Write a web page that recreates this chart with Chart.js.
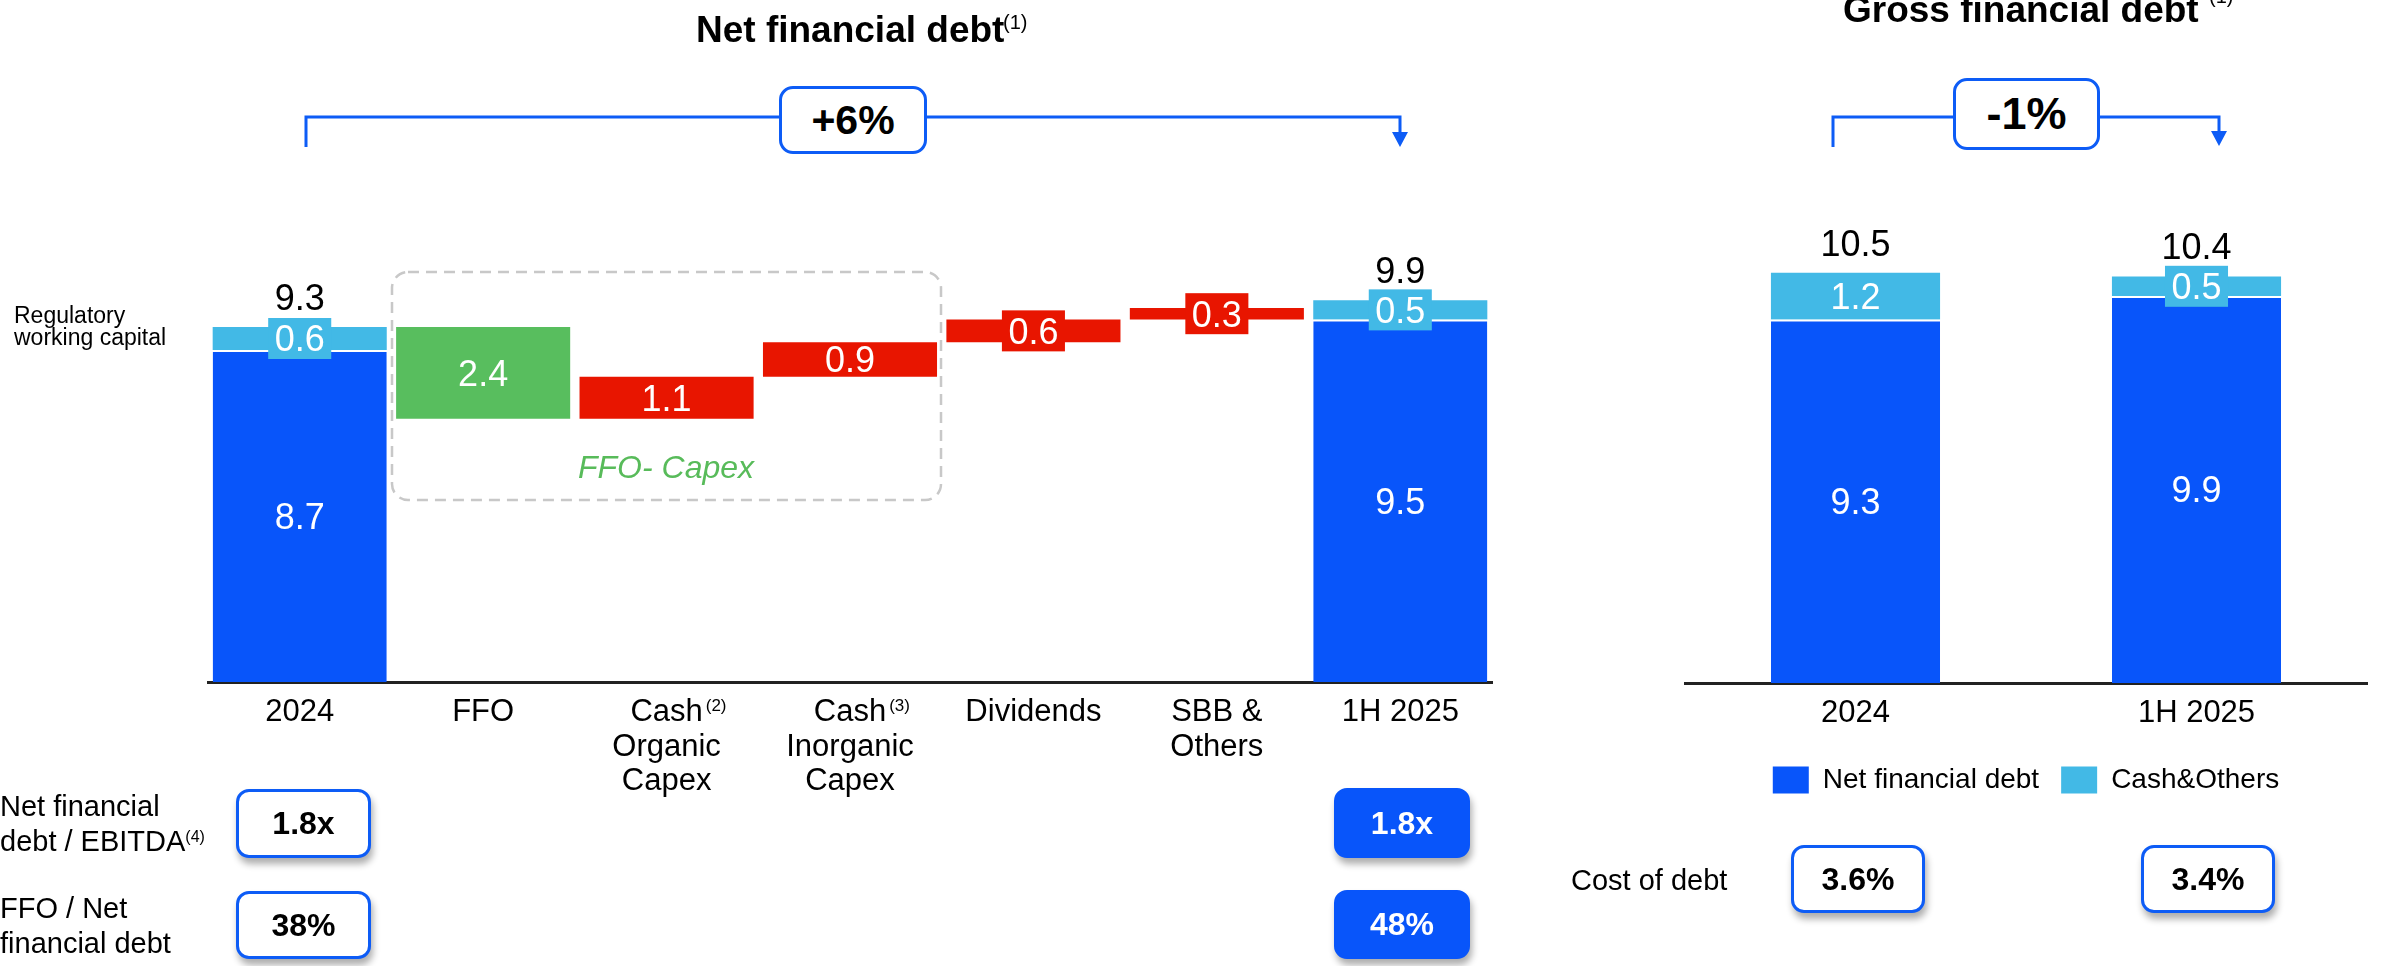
<!DOCTYPE html>
<html>
<head>
<meta charset="utf-8">
<title>Net and gross financial debt</title>
<script src="https://cdn.jsdelivr.net/npm/chart.js@4.4.1/dist/chart.umd.min.js"></script>
<style>
  html, body { margin: 0; padding: 0; background: #fff; }
  body {
    width: 2381px; height: 966px; position: relative; overflow: hidden;
    font-family: 'Liberation Sans', Arial, Helvetica, sans-serif; color: #000;
  }
  canvas { position: absolute; top: 0; }
  #netChart { left: 0; }
  #grossChart { left: 1600px; }
  .abs { position: absolute; white-space: nowrap; }
  .title { font-weight: bold; font-size: 37px; line-height: 37px; }
  .note { font-size: 20px; line-height: 20px; }
  .row { font-size: 29px; line-height: 35px; }
  .row .fn { font-size: 16px; position: relative; top: -9px; }
  .overlay { position: absolute; left: 0; top: 0; pointer-events: none; }
  .change {
    position: absolute; box-sizing: border-box; background: #fff;
    border: 3px solid #0D5CF6; border-radius: 14px;
    display: flex; align-items: center; justify-content: center;
    font-weight: bold;
  }
  .kpi {
    position: absolute; box-sizing: border-box; background: #fff;
    border: 3px solid #0D5CF6; border-radius: 13px;
    display: flex; align-items: center; justify-content: center;
    font-weight: bold; font-size: 32px;
    box-shadow: 2px 6px 7px rgba(0, 0, 0, 0.32);
  }
  .kpi.solid { background: #0855FA; border-color: #0855FA; color: #fff; }
</style>
</head>
<body>
<canvas id="netChart" width="1560" height="966"></canvas>
<canvas id="grossChart" width="781" height="966"></canvas>

<svg class="overlay" width="2381" height="966">
  <!-- FFO minus capex grouping -->
  <rect x="392" y="272" width="549" height="228" rx="16" ry="16" fill="none"
        stroke="#c8c8c8" stroke-width="2.5" stroke-dasharray="11 7"/>
  <!-- change brackets -->
  <polyline points="306,147 306,117 1400,117 1400,134" fill="none" stroke="#0D5CF6" stroke-width="3"/>
  <polygon points="1392,132 1408,132 1400,147" fill="#0D5CF6"/>
  <polyline points="1833,147 1833,117 2219,117 2219,133" fill="none" stroke="#0D5CF6" stroke-width="3"/>
  <polygon points="2211,131 2227,131 2219,146" fill="#0D5CF6"/>
</svg>

<div class="abs title" style="left:696px; top:11px;">Net financial debt</div>
<div class="abs note" style="left:1003px; top:12px;">(1)</div>
<div class="abs title" style="left:1843px; top:-9px;">Gross financial debt</div>
<div class="abs note" style="left:2209px; top:-14px;">(1)</div>

<div id="netChange" class="change" style="left:779px; top:86px; width:148px; height:68px; font-size:41px;"></div>
<div id="grossChange" class="change" style="left:1953px; top:78px; width:147px; height:72px; font-size:45px;"></div>

<div class="abs" style="left:14px; top:303.5px; font-size:23px; line-height:22.3px;">Regulatory<br>working capital</div>
<div class="abs" style="left:566px; top:451px; width:200px; text-align:center; font-size:32px; line-height:32px; font-style:italic; color:#58BB5A;">FFO- Capex</div>

<div class="abs row" style="left:0; top:789px;">Net financial<br>debt / EBITDA<span class="fn">(4)</span></div>
<div class="abs row" style="left:0; top:891px;">FFO / Net<br>financial debt</div>
<div class="abs row" style="left:1571px; top:863px;">Cost of debt</div>

<div id="lev2024" class="kpi" style="left:236px; top:789px; width:135px; height:69px;"></div>
<div id="ffo2024" class="kpi" style="left:236px; top:891px; width:135px; height:68px;"></div>
<div id="lev2025" class="kpi solid" style="left:1334px; top:788px; width:136px; height:70px;"></div>
<div id="ffo2025" class="kpi solid" style="left:1334px; top:890px; width:136px; height:69px;"></div>
<div id="cod2024" class="kpi" style="left:1791px; top:845px; width:134px; height:68px;"></div>
<div id="cod2025" class="kpi" style="left:2141px; top:845px; width:134px; height:68px;"></div>

<script>
// Net financial debt bridge, 2024 -> 1H 2025 (EUR bn)
const bridgeCategories = [['2024'], ['FFO'], ['Cash', 'Organic', 'Capex'], ['Cash', 'Inorganic', 'Capex'], ['Dividends'], ['SBB &', 'Others'], ['1H 2025']];
const bridgeFootnotes = [null, null, '(2)', '(3)', null, null, null];
const bridgeNetDebt = [8.7, null, null, null, null, null, 9.5];
const bridgeWorkingCapital = [0.6, null, null, null, null, null, 0.5];
const bridgeTotals = [9.3, null, null, null, null, null, 9.9];
const bridgeFlows = [null, -2.4, 1.1, 0.9, 0.6, 0.3, null];

// Gross financial debt (EUR bn)
const grossCategories = ['2024', '1H 2025'];
const grossNetDebt = [9.3, 9.9];
const grossCashOthers = [1.2, 0.5];
const grossTotals = [10.5, 10.4];

// Ratios shown under the charts
const netDebtChange = '+6%';
const grossDebtChange = '-1%';
const leverage = ['1.8x', '1.8x'];
const ffoOverNetDebt = ['38%', '48%'];
const costOfDebt = ['3.6%', '3.4%'];

const FONT = "'Liberation Sans', Arial, Helvetica, sans-serif";
const BLUE = '#0855FA';
const CYAN = '#42B9E6';
const GREEN = '#58BE5E';
const RED = '#E81500';

const fmt = v => (v == null ? null : Math.abs(v).toFixed(1));

// Values printed on the bars, with a matching colour tab behind thin segments
const valueLabels = {
  id: 'valueLabels',
  afterDatasetsDraw(chart) {
    const ctx = chart.ctx;
    const size = 36;
    const halfCap = 0.358 * size;
    ctx.save();
    ctx.font = `${size}px ${FONT}`;
    ctx.textAlign = 'center';
    ctx.textBaseline = 'alphabetic';
    chart.data.datasets.forEach((ds, di) => {
      const meta = chart.getDatasetMeta(di);
      meta.data.forEach((bar, i) => {
        const text = ds.valueTexts ? ds.valueTexts[i] : null;
        if (text == null) return;
        const p = bar.getProps(['x', 'y', 'base'], true);
        const top = Math.min(p.y, p.base);
        const bottom = Math.max(p.y, p.base);
        const cy = (top + bottom) / 2;
        if (bottom - top < 30) {
          const w = ctx.measureText(text).width + 13;
          ctx.fillStyle = bar.options.backgroundColor;
          ctx.fillRect(p.x - w / 2, cy - 20.5, w, 41);
        }
        ctx.fillStyle = '#fff';
        ctx.fillText(text, p.x, cy + halfCap);
        const total = ds.totalTexts ? ds.totalTexts[i] : null;
        if (total != null) {
          ctx.fillStyle = '#000';
          ctx.fillText(total, p.x, top - 30 + halfCap);
        }
      });
    });
    ctx.restore();
  }
};

// Footnote markers next to the first line of some category labels
const tickFootnotes = {
  id: 'tickFootnotes',
  afterDraw(chart, args, opts) {
    if (!opts.notes) return;
    const scale = chart.scales.x;
    const ctx = chart.ctx;
    ctx.save();
    opts.notes.forEach((note, i) => {
      if (!note) return;
      ctx.font = `${opts.size}px ${FONT}`;
      const first = chart.data.labels[i][0];
      const w = ctx.measureText(first).width;
      const x = scale.getPixelForTick(i);
      ctx.font = `17px ${FONT}`;
      ctx.textAlign = 'left';
      ctx.textBaseline = 'alphabetic';
      ctx.fillStyle = '#000';
      ctx.fillText(note, x + w / 2 + 3, scale.top + 28.5);
    });
    ctx.restore();
  }
};

Chart.register(valueLabels, tickFootnotes);

// ---- Net financial debt bridge ----
const bridgeBase = bridgeNetDebt.map(v => (v == null ? null : [0, v]));
const bridgeTop = bridgeWorkingCapital.map((v, i) => (v == null ? null : [bridgeNetDebt[i], bridgeNetDebt[i] + v]));
let level = bridgeTotals[0];
const bridgeSteps = bridgeFlows.map(v => {
  if (v == null) return null;
  const range = [Math.min(level, level + v), Math.max(level, level + v)];
  level += v;
  return range;
});

const TICK_SIZE = 31;

new Chart(document.getElementById('netChart'), {
  type: 'bar',
  data: {
    labels: bridgeCategories,
    datasets: [
      {
        label: 'Net financial debt',
        data: bridgeBase,
        backgroundColor: BLUE,
        borderColor: '#fff',
        borderWidth: { top: 2, left: 0, right: 0, bottom: 0 },
        valueTexts: bridgeNetDebt.map(fmt)
      },
      {
        label: 'Regulatory working capital',
        data: bridgeTop,
        backgroundColor: CYAN,
        borderWidth: 0,
        valueTexts: bridgeWorkingCapital.map(fmt),
        totalTexts: bridgeTotals.map(fmt)
      },
      {
        label: 'Change',
        data: bridgeSteps,
        backgroundColor: bridgeFlows.map(v => (v != null && v < 0 ? GREEN : RED)),
        borderWidth: 0,
        valueTexts: bridgeFlows.map(fmt)
      }
    ]
  },
  options: {
    responsive: false,
    animation: false,
    devicePixelRatio: 1,
    events: [],
    layout: { padding: { left: 208, right: 68, top: 224, bottom: 0 } },
    datasets: { bar: { grouped: false, barPercentage: 0.949, categoryPercentage: 1 } },
    plugins: {
      legend: { display: false },
      tooltip: { enabled: false },
      tickFootnotes: { notes: bridgeFootnotes, size: TICK_SIZE }
    },
    scales: {
      y: { display: false, min: 0, max: 12 },
      x: {
        grid: { display: false, drawTicks: false },
        border: { display: true, color: '#222', width: 3 },
        ticks: {
          color: '#000',
          padding: 13.5,
          maxRotation: 0,
          autoSkip: false,
          font: { family: FONT, size: TICK_SIZE, lineHeight: '34.5px' }
        },
        afterFit(scale) { scale.height = 966 - 682; }
      }
    }
  }
});

// ---- Gross financial debt ----
const GROSS_H = 966;
const GROSS_PAD_BOTTOM = 162;

new Chart(document.getElementById('grossChart'), {
  type: 'bar',
  data: {
    labels: grossCategories,
    datasets: [
      {
        label: 'Net financial debt',
        data: grossNetDebt.map(v => [0, v]),
        backgroundColor: BLUE,
        borderColor: '#fff',
        borderWidth: { top: 2, left: 0, right: 0, bottom: 0 },
        valueTexts: grossNetDebt.map(fmt)
      },
      {
        label: 'Cash&Others',
        data: grossCashOthers.map((v, i) => [grossNetDebt[i], grossNetDebt[i] + v]),
        backgroundColor: CYAN,
        borderWidth: 0,
        valueTexts: grossCashOthers.map(fmt),
        totalTexts: grossTotals.map(fmt)
      }
    ]
  },
  options: {
    responsive: false,
    animation: false,
    devicePixelRatio: 1,
    events: [],
    layout: { padding: { left: 85, right: 14, top: 214, bottom: GROSS_PAD_BOTTOM } },
    datasets: { bar: { grouped: false, barPercentage: 0.496, categoryPercentage: 1 } },
    plugins: {
      tooltip: { enabled: false },
      legend: {
        display: true,
        position: 'bottom',
        align: 'center',
        labels: {
          color: '#000',
          boxWidth: 36,
          boxHeight: 27,
          padding: 22,
          font: { family: FONT, size: 28 },
          generateLabels(chart) {
            return Chart.defaults.plugins.legend.labels.generateLabels(chart)
              .map(item => Object.assign(item, { lineWidth: 0, strokeStyle: 'rgba(0,0,0,0)' }));
          }
        }
      }
    },
    scales: {
      y: { display: false, min: 0, max: 12 },
      x: {
        grid: { display: false, drawTicks: false },
        border: { display: true, color: '#222', width: 3 },
        ticks: {
          color: '#000',
          padding: 12.75,
          maxRotation: 0,
          font: { family: FONT, size: TICK_SIZE, lineHeight: '34.5px' }
        },
        afterFit(scale) {
          scale.height = GROSS_H - GROSS_PAD_BOTTOM - scale.chart.legend.height - 683;
        }
      }
    }
  }
});

// ---- ratio boxes ----
document.getElementById('netChange').textContent = netDebtChange;
document.getElementById('grossChange').textContent = grossDebtChange;
document.getElementById('lev2024').textContent = leverage[0];
document.getElementById('lev2025').textContent = leverage[1];
document.getElementById('ffo2024').textContent = ffoOverNetDebt[0];
document.getElementById('ffo2025').textContent = ffoOverNetDebt[1];
document.getElementById('cod2024').textContent = costOfDebt[0];
document.getElementById('cod2025').textContent = costOfDebt[1];
</script>
</body>
</html>
